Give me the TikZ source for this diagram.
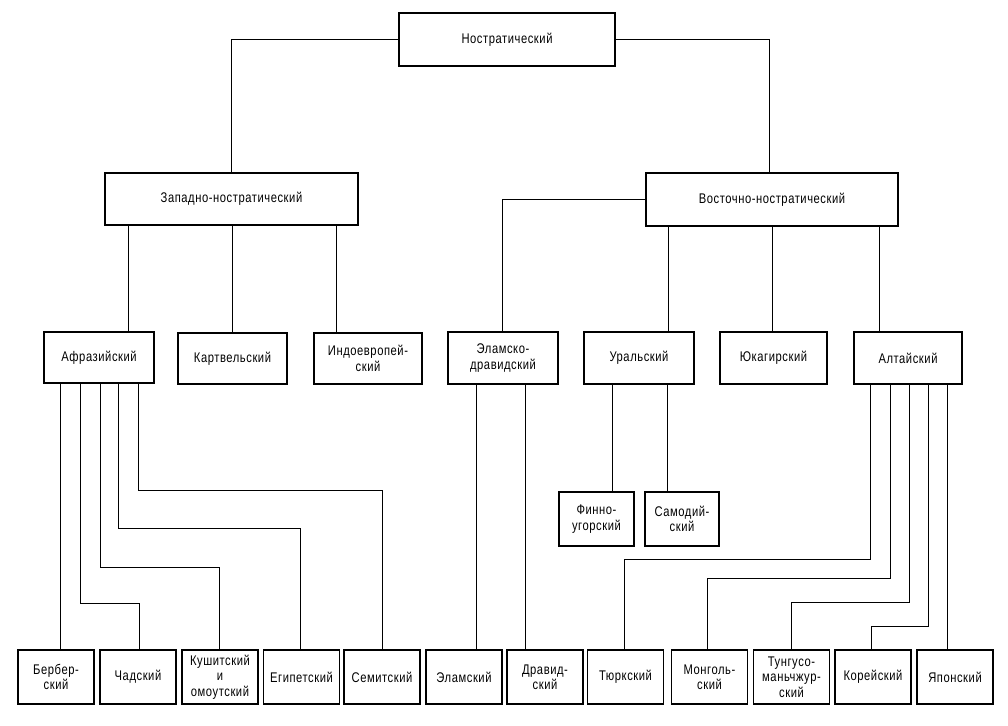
\documentclass[tikz,border=0pt]{standalone}
\usepackage{fontspec}
\newfontfamily\cond[FakeStretch=0.8,LetterSpace=4]{Liberation Sans}
\begin{document}
\begin{tikzpicture}[x=1pt,y=-1pt,
  box/.style={draw, line width=1.1pt, inner sep=0pt, align=center,
    font=\cond\fontsize{14}{15.5}\selectfont},
  lnk/.style={line width=0.8pt}]
\useasboundingbox (0,0) rectangle (1008,725);
% level 0
\node[box, minimum width=216, minimum height=53] (nos) at (507,39.5) {Ностратический};
% level 1
\node[box, minimum width=253, minimum height=52] (west) at (231.5,199) {Западно-ностратический};
\node[box, minimum width=252, minimum height=53] (east) at (772,199.5) {Восточно-ностратический};
% level 2
\node[box, minimum width=110, minimum height=51] (afr) at (99,357.5) {Афразийский};
\node[box, minimum width=109, minimum height=51] (kar) at (232.5,358.5) {Картвельский};
\node[box, minimum width=108, minimum height=51] (ind) at (368,358.5) {Индоевропей-\\ский};
\node[box, minimum width=110, minimum height=52] (ela) at (503,358) {Эламско-\\дравидский};
\node[box, minimum width=110, minimum height=52] (ura) at (639,358) {Уральский};
\node[box, minimum width=107, minimum height=52] (yuk) at (773.5,358) {Юкагирский};
\node[box, minimum width=108, minimum height=52] (alt) at (908,358) {Алтайский};
% Uralic children
\node[box, minimum width=75, minimum height=54] (fin) at (596.5,519) {Финно-\\угорский};
\node[box, minimum width=74, minimum height=54] (sam) at (682,519) {Самодий-\\ский};
% bottom row
\foreach \n/\cx/\t in {
  ber/56/{Бербер-\\ский},
  chad/138/{Чадский},
  cush/220/{Кушитский\\и\\омоутский},
  egy/301.5/{Египетский},
  sem/382/{Семитский},
  elm/464/{Эламский},
  drav/545/{Дравид-\\ский},
  turk/625.5/{Тюркский},
  mong/709.5/{Монголь-\\ский},
  tung/791.5/{Тунгусо-\\маньчжур-\\ский},
  kor/873/{Корейский},
  jap/955/{Японский}}
  {\node[box, minimum width=76, minimum height=54] (\n) at (\cx,677) {\t};}
% connectors from root
\draw[lnk] (nos.west) -| (west.north);
\draw[lnk] (nos.east) -| (769,0 |- east.north);
% western branch
\draw[lnk] (west.south -| 128,0) -- (afr.north -| 128,0);
\draw[lnk] (west.south -| 232,0) -- (kar.north -| 232,0);
\draw[lnk] (west.south -| 336,0) -- (ind.north -| 336,0);
% eastern branch
\draw[lnk] (east.west) -| (ela.north -| 502,0);
\draw[lnk] (east.south -| 668,0) -- (ura.north -| 668,0);
\draw[lnk] (east.south -| 772,0) -- (yuk.north -| 772,0);
\draw[lnk] (east.south -| 879,0) -- (alt.north -| 879,0);
% Afrasian
\draw[lnk] (afr.south -| 60,0) -- (ber.north -| 60,0);
\draw[lnk] (afr.south -| 80,0) |- (139,603) -- (chad.north -| 139,0);
\draw[lnk] (afr.south -| 100,0) |- (219,567) -- (cush.north -| 219,0);
\draw[lnk] (afr.south -| 118,0) |- (300,528) -- (egy.north -| 300,0);
\draw[lnk] (afr.south -| 138,0) |- (382,490) -- (sem.north -| 382,0);
% Elamo-Dravidian
\draw[lnk] (ela.south -| 476,0) -- (elm.north -| 476,0);
\draw[lnk] (ela.south -| 525,0) -- (drav.north -| 525,0);
% Uralic
\draw[lnk] (ura.south -| 612,0) -- (fin.north -| 612,0);
\draw[lnk] (ura.south -| 667,0) -- (sam.north -| 667,0);
% Altaic
\draw[lnk] (alt.south -| 870,0) |- (624,559) -- (turk.north -| 624,0);
\draw[lnk] (alt.south -| 890,0) |- (707,578) -- (mong.north -| 707,0);
\draw[lnk] (alt.south -| 909,0) |- (791,602) -- (tung.north -| 791,0);
\draw[lnk] (alt.south -| 928,0) |- (871,626) -- (kor.north -| 871,0);
\draw[lnk] (alt.south -| 947,0) -- (jap.north -| 947,0);
\end{tikzpicture}
\end{document}
